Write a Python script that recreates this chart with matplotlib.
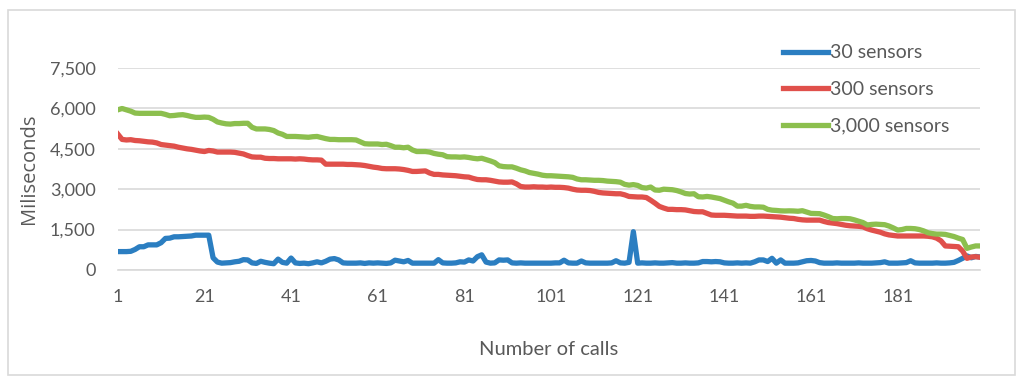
import matplotlib.pyplot as plt
from matplotlib.patches import Rectangle

plt.rcParams["font.family"] = ["Lato", "DejaVu Sans"]

CALLS = list(range(1, 201))

S30 = [
    680, 680, 680, 690, 760, 860, 860, 930, 930, 930,
    1010, 1170, 1180, 1230, 1230, 1240, 1250, 1260, 1290, 1290,
    1290, 1290, 450, 290, 250, 260, 270, 300, 320, 380,
    370, 260, 240, 320, 280, 250, 230, 400, 280, 250,
    440, 260, 240, 250, 230, 260, 300, 260, 320, 400,
    420, 370, 260, 250, 250, 250, 260, 240, 260, 250,
    260, 250, 240, 260, 360, 330, 300, 350, 250, 250,
    250, 250, 250, 250, 380, 260, 250, 250, 260, 300,
    290, 370, 330, 490, 560, 290, 250, 260, 370, 360,
    370, 260, 250, 260, 250, 250, 250, 250, 250, 250,
    250, 260, 260, 360, 260, 250, 250, 330, 260, 250,
    250, 250, 250, 250, 260, 340, 260, 250, 280, 1420,
    250, 260, 250, 250, 260, 250, 250, 260, 270, 250,
    250, 260, 250, 250, 260, 310, 310, 300, 310, 300,
    260, 250, 250, 260, 250, 260, 250, 300, 370, 370,
    310, 430, 250, 370, 250, 250, 250, 260, 300, 340,
    350, 330, 270, 250, 250, 250, 260, 250, 250, 250,
    250, 260, 250, 250, 250, 260, 270, 300, 250, 250,
    250, 260, 270, 340, 260, 250, 250, 250, 250, 260,
    250, 250, 260, 280, 350, 430, 520, 450, 500, 480,
]

S300 = [
    5050, 4850, 4830, 4840, 4810, 4800, 4780, 4760, 4750, 4720,
    4660, 4640, 4620, 4600, 4560, 4530, 4500, 4480, 4450, 4420,
    4400, 4440, 4420, 4380, 4380, 4380, 4380, 4370, 4340, 4310,
    4250, 4200, 4190, 4190, 4150, 4140, 4140, 4130, 4130, 4130,
    4130, 4120, 4130, 4120, 4100, 4090, 4090, 4080, 3930, 3930,
    3930, 3930, 3930, 3920, 3920, 3910, 3900, 3880, 3850, 3820,
    3800, 3770, 3760, 3760, 3760, 3750, 3730, 3700, 3660, 3660,
    3670, 3680, 3600, 3550, 3550, 3530, 3520, 3510, 3500, 3480,
    3460, 3450, 3400, 3360, 3350, 3350, 3330, 3300, 3270, 3260,
    3260, 3270, 3200, 3100, 3080, 3080, 3090, 3080, 3080, 3070,
    3080, 3070, 3070, 3060, 3040, 3000, 2970, 2960, 2960, 2950,
    2920, 2880, 2860, 2850, 2840, 2830, 2830, 2790, 2730, 2720,
    2710, 2710, 2690, 2590, 2480, 2360, 2300, 2250, 2250, 2240,
    2240, 2230, 2200, 2170, 2160, 2160, 2100, 2040, 2030, 2030,
    2030, 2020, 2010, 2000, 2000, 2000, 1990, 1990, 2000, 2000,
    1990, 1980, 1970, 1960, 1940, 1920, 1910, 1880, 1860, 1850,
    1850, 1850, 1850, 1800, 1760, 1740, 1720, 1690, 1660, 1640,
    1630, 1620, 1600, 1530, 1480, 1440, 1400, 1340, 1300, 1280,
    1260, 1260, 1260, 1260, 1260, 1260, 1260, 1250, 1230, 1180,
    1080, 890, 880, 870, 860, 700, 430, 480, 490, 470,
]

S3000 = [
    5950, 6000, 5950, 5900, 5830, 5820, 5820, 5820, 5820, 5820,
    5820, 5780, 5730, 5740, 5760, 5770, 5740, 5700, 5670, 5670,
    5680, 5670, 5600, 5500, 5460, 5430, 5420, 5440, 5440, 5450,
    5450, 5300, 5240, 5240, 5240, 5220, 5180, 5090, 5040, 4960,
    4960, 4960, 4950, 4940, 4930, 4950, 4960, 4920, 4880, 4850,
    4850, 4840, 4840, 4840, 4840, 4830, 4760, 4690, 4680, 4680,
    4680, 4660, 4670, 4620, 4560, 4560, 4540, 4560, 4460, 4400,
    4400, 4400, 4380, 4330, 4300, 4280, 4210, 4200, 4200, 4190,
    4200, 4180, 4150, 4130, 4150, 4100, 4050, 3990, 3870, 3840,
    3830, 3830, 3780, 3720, 3680, 3620, 3590, 3560, 3520, 3500,
    3500, 3490, 3480, 3470, 3460, 3440, 3380, 3350, 3350, 3340,
    3330, 3330, 3320, 3300, 3290, 3280, 3260, 3180, 3150, 3170,
    3140, 3060, 3040, 3080, 2970, 2960, 3000, 2990, 2980, 2950,
    2900, 2840, 2820, 2830, 2720, 2710, 2730, 2710, 2680, 2650,
    2590, 2530, 2480, 2370, 2370, 2400, 2360, 2340, 2340, 2330,
    2250, 2220, 2210, 2195, 2190, 2195, 2190, 2180, 2200, 2150,
    2100, 2095, 2090, 2040, 1980, 1910, 1900, 1910, 1910, 1900,
    1860, 1810, 1760, 1670, 1690, 1700, 1690, 1680, 1630, 1560,
    1480, 1500, 1540, 1540, 1530, 1500, 1450, 1380, 1350, 1330,
    1330, 1320, 1280, 1240, 1180, 1130, 800, 850, 890, 890,
]

SERIES = ["30 sensors", "300 sensors", "3,000 sensors"]
COLORS = ["#2B7EC1", "#E0504B", "#8CBF4E"]
Y_TICKS = [0, 1500, 3000, 4500, 6000, 7500]
X_TICKS = list(range(1, 200, 20))

fig = plt.figure(figsize=(10.24, 3.85), dpi=100)
ax = fig.add_axes([0.115, 0.299, 0.842, 0.524])

for vals, name, c in zip([S30, S300, S3000], SERIES, COLORS):
    ax.plot(CALLS, vals, color=c, lw=3.8, label=name, solid_joinstyle="round")

ax.set_xlim(1, 200)
ax.set_ylim(0, 7500)
ax.set_yticks(Y_TICKS)
ax.set_yticklabels([f"{v:,}" for v in Y_TICKS])
ax.set_xticks(X_TICKS)
ax.grid(axis="y", color="#D9D9D9", lw=1.2)
ax.set_axisbelow(True)
for s in ["top", "right", "left"]:
    ax.spines[s].set_visible(False)
ax.spines["bottom"].set_color("#D9D9D9")
ax.spines["bottom"].set_linewidth(1.2)
ax.tick_params(length=0, labelsize=13, labelcolor="#595959")
ax.tick_params(axis="y", pad=16)
ax.tick_params(axis="x", pad=14)

ax.set_xlabel("Number of calls", fontsize=14.5, color="#595959", labelpad=26)
ax.set_ylabel("Miliseconds", fontsize=14.5, color="#595959", labelpad=8,
              family=["Open Sans", "DejaVu Sans"])

fig.legend(loc="upper left", bbox_to_anchor=(0.748, 0.93), frameon=False,
           fontsize=14, labelcolor="#595959", handlelength=2.3,
           handletextpad=0.1, labelspacing=1.0)

fig.patches.append(Rectangle((8 / 1024, 10 / 385), 1007 / 1024, 365 / 385,
                             transform=fig.transFigure, fill=False,
                             edgecolor="#D9D9D9", lw=1.2))

fig.savefig("out.png", dpi=100)
